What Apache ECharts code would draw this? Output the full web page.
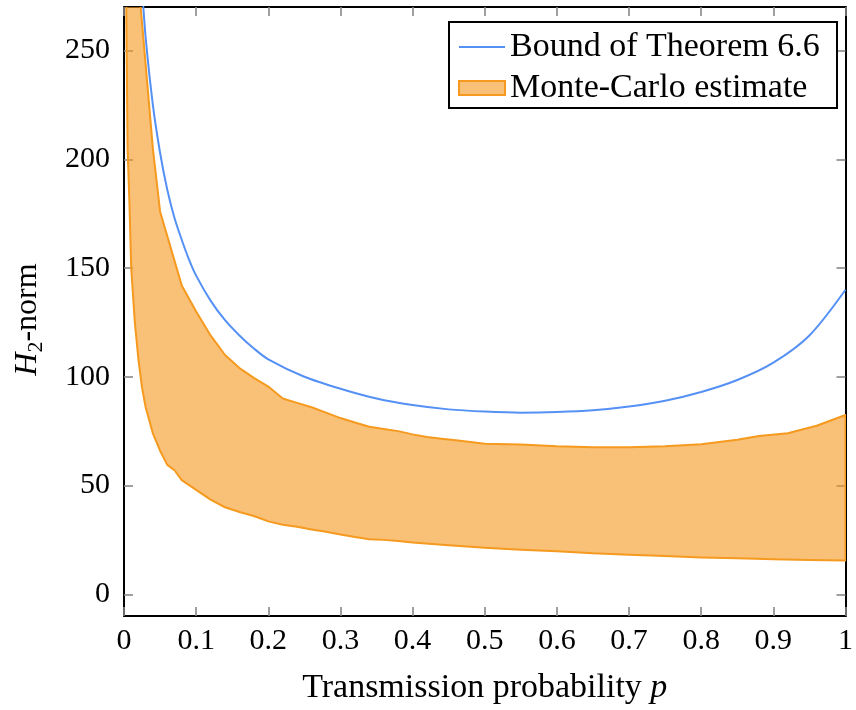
<!DOCTYPE html>
<html>
<head>
<meta charset="utf-8">
<script src="https://cdn.jsdelivr.net/npm/echarts@6/dist/echarts.min.js"></script>
<style>html,body{margin:0;padding:0;background:#fff;}#chart{width:856px;height:710px;}</style>
</head>
<body>
<div id="chart"></div>
<script>
// ---- data ----
const xTickValues = [0, 0.1, 0.2, 0.3, 0.4, 0.5, 0.6, 0.7, 0.8, 0.9, 1];
const xTickLabels = ['0', '0.1', '0.2', '0.3', '0.4', '0.5', '0.6', '0.7', '0.8', '0.9', '1'];
const yTickValues = [0, 50, 100, 150, 200, 250];
const yTickLabels = ['0', '50', '100', '150', '200', '250'];

const boundP = [0.025, 0.03, 0.04, 0.05, 0.06, 0.07, 0.08, 0.09, 0.10, 0.12, 0.14, 0.16, 0.18, 0.20, 0.25, 0.30, 0.35, 0.40, 0.45, 0.50, 0.55, 0.60, 0.65, 0.70, 0.75, 0.80, 0.85, 0.90, 0.95, 1.00];
const boundH2 = [279, 256, 225, 203, 186, 173, 163, 154, 146.5, 135, 126, 119, 113, 108, 100, 94.5, 90, 87, 85, 84, 83.5, 83.8, 84.6, 86.3, 89, 93, 98.5, 106.5, 119, 140];

const mcUpperP = [0.02, 0.04, 0.05, 0.08, 0.10, 0.12, 0.14, 0.16, 0.18, 0.20, 0.22, 0.24, 0.26, 0.28, 0.30, 0.32, 0.34, 0.36, 0.38, 0.40, 0.42, 0.44, 0.46, 0.48, 0.50, 0.55, 0.60, 0.65, 0.70, 0.75, 0.80, 0.85, 0.88, 0.92, 0.96, 1.00];
const mcUpper = [282, 205, 176, 142, 130, 119, 110, 104, 99.5, 95.5, 90, 88, 86, 83.5, 81, 79, 77, 76, 75, 73.5, 72.3, 71.5, 70.8, 70, 69.2, 68.8, 68, 67.6, 67.6, 68, 69, 71, 72.8, 74, 77.5, 82.4];

const mcLowerP = [0.003, 0.005, 0.0075, 0.01, 0.015, 0.02, 0.025, 0.03, 0.04, 0.05, 0.06, 0.07, 0.08, 0.10, 0.12, 0.14, 0.16, 0.18, 0.20, 0.22, 0.24, 0.26, 0.28, 0.30, 0.32, 0.34, 0.36, 0.38, 0.40, 0.45, 0.50, 0.55, 0.60, 0.65, 0.70, 0.75, 0.80, 0.85, 0.90, 0.95, 1.00];
const mcLower = [275, 205, 180, 150, 125, 108, 95, 86, 74, 66, 59.5, 57, 52.5, 48, 43.5, 40, 37.8, 36, 33.5, 32, 31, 29.8, 28.7, 27.5, 26.3, 25.3, 25, 24.5, 23.8, 22.5, 21.4, 20.5, 19.8, 18.8, 18.2, 17.6, 16.9, 16.5, 16.1, 15.8, 15.5];

// ---- styles ----
const FONT = 'Liberation Serif';
const BLUE = '#5591f5';
const ORANGE_LINE = '#f59a1e';
const ORANGE_FILL = 'rgba(245,150,30,0.6)';
const TICK = '#888888';

const chart = echarts.init(document.getElementById('chart'), null, {renderer: 'canvas'});

const baseX = {
  type: 'value', min: 0, max: 1, interval: 0.1,
  axisLine: {show: true, onZero: false, lineStyle: {color: '#000', width: 2}},
  axisTick: {show: true, inside: true, length: 9, lineStyle: {color: TICK, width: 1.6}},
  splitLine: {show: false}
};
const baseY = {
  type: 'value', min: -10, max: 270,
  axisLine: {show: true, onZero: false, lineStyle: {color: '#000', width: 2}},
  axisTick: {show: true, inside: true, length: 9, customValues: yTickValues, lineStyle: {color: TICK, width: 1.6}},
  splitLine: {show: false}
};

const option = {
  animation: false,
  backgroundColor: '#fff',
  grid: {left: 124, right: 5, top: 7, bottom: 92, containLabel: false},
  xAxis: [
    Object.assign({}, baseX, {
      position: 'bottom',
      axisLabel: {
        show: true, margin: 10, color: '#000', fontFamily: FONT, fontSize: 30,
        formatter: function (v) { const i = Math.round(v * 10); return xTickLabels[i]; }
      },
      name: 'Transmission probability {i|p}',
      nameLocation: 'middle', nameGap: 55,
      nameTextStyle: {color: '#000', fontFamily: FONT, fontSize: 34,
        rich: {i: {fontFamily: FONT, fontSize: 34, fontStyle: 'italic', color: '#000'}}}
    }),
    Object.assign({}, baseX, {position: 'top', axisLabel: {show: false}})
  ],
  yAxis: [
    Object.assign({}, baseY, {
      position: 'left',
      axisLabel: {
        show: true, margin: 14, color: '#000', fontFamily: FONT, fontSize: 30,
        customValues: yTickValues,
        formatter: function (v) { const i = yTickValues.indexOf(Math.round(v)); return i >= 0 ? yTickLabels[i] : ''; }
      },
      name: '{i|H}{s|2}{n|-norm}',
      nameLocation: 'middle', nameGap: 80,
      nameTextStyle: {color: '#000', fontFamily: FONT, fontSize: 32, padding: [0, 16, 0, 0],
        rich: {
          i: {fontFamily: FONT, fontSize: 32, fontStyle: 'italic', color: '#000', lineHeight: 32},
          s: {fontFamily: FONT, fontSize: 22, color: '#000', lineHeight: 20, padding: [16, 0, 0, 0]},
          n: {fontFamily: FONT, fontSize: 32, color: '#000', lineHeight: 32}
        }}
    }),
    Object.assign({}, baseY, {position: 'right', axisLabel: {show: false}})
  ],
  legend: {
    show: true, orient: 'vertical', left: 458, top: 30, padding: 0,
    itemWidth: 46, itemHeight: 14, itemGap: 7,
    textStyle: {color: '#000', fontFamily: FONT, fontSize: 34, lineHeight: 32},
    data: [
      {name: 'Bound of Theorem 6.6', itemStyle: {opacity: 0}},
      {name: 'Monte-Carlo estimate', icon: 'rect', itemStyle: {color: ORANGE_FILL, borderColor: ORANGE_LINE, borderWidth: 2}}
    ]
  },
  graphic: [{
    type: 'rect', shape: {x: 449, y: 22, width: 388, height: 86},
    style: {fill: '#fff', stroke: '#000', lineWidth: 2}, z: 3
  }],
  series: [
    {
      name: 'Monte-Carlo estimate', type: 'custom', xAxisIndex: 0, yAxisIndex: 0, clip: true, z: 1,
      data: [[mcUpperP[0], mcUpper[0]]],
      color: ORANGE_FILL,
      renderItem: function (params, api) {
        if (params.dataIndex !== 0) return null;
        const pts = [];
        for (let i = 0; i < mcUpperP.length; i++) pts.push(api.coord([mcUpperP[i], mcUpper[i]]));
        for (let i = mcLowerP.length - 1; i >= 0; i--) pts.push(api.coord([mcLowerP[i], mcLower[i]]));
        return {type: 'polygon', shape: {points: pts},
          style: {fill: ORANGE_FILL, stroke: ORANGE_LINE, lineWidth: 2, lineJoin: 'round'}};
      }
    },
    {
      name: 'Bound of Theorem 6.6', type: 'line', xAxisIndex: 0, yAxisIndex: 0,
      data: boundP.map(function (p, i) { return [p, boundH2[i]]; }),
      smooth: 0.3, symbol: 'none', clip: true, z: 2,
      lineStyle: {color: BLUE, width: 2}, itemStyle: {color: BLUE}
    }
  ]
};
chart.setOption(option);
</script>
</body>
</html>
